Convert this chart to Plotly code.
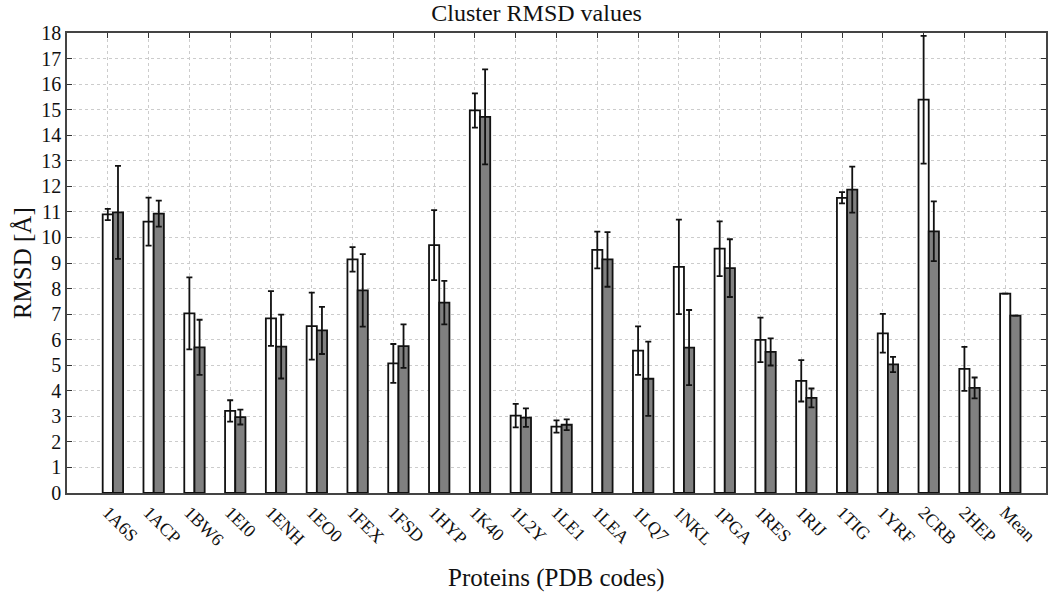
import plotly.graph_objects as go

proteins = ["1A6S", "1ACP", "1BW6", "1EI0", "1ENH", "1EO0", "1FEX", "1FSD", "1HYP", "1K40",
            "1L2Y", "1LE1", "1LEA", "1LQ7", "1NKL", "1PGA", "1RES", "1RIJ", "1TIG", "1YRF",
            "2CRB", "2HEP", "Mean"]

rmsd_a = [10.90, 10.62, 7.03, 3.21, 6.83, 6.53, 9.14, 5.07, 9.70, 14.97,
          3.03, 2.60, 9.51, 5.57, 8.85, 9.56, 5.99, 4.39, 11.55, 6.25,
          15.39, 4.86, 7.80]
err_a = [0.22, 0.94, 1.41, 0.42, 1.07, 1.31, 0.48, 0.76, 1.37, 0.67,
         0.46, 0.24, 0.72, 0.95, 1.85, 1.07, 0.87, 0.81, 0.22, 0.76,
         2.50, 0.86, None]

rmsd_b = [10.98, 10.93, 5.70, 2.97, 5.73, 6.36, 7.93, 5.75, 7.45, 14.72,
          2.95, 2.67, 9.14, 4.47, 5.69, 8.80, 5.52, 3.72, 11.87, 5.03,
          10.24, 4.11, 6.94]
err_b = [1.82, 0.51, 1.08, 0.29, 1.25, 0.92, 1.42, 0.85, 0.85, 1.86,
         0.36, 0.21, 1.07, 1.45, 1.47, 1.13, 0.53, 0.37, 0.90, 0.30,
         1.17, 0.41, None]

y_ticks = list(range(0, 19))

idx = list(range(len(proteins)))
BAR_W = 0.25

fig = go.Figure()
fig.add_trace(go.Bar(
    x=idx, y=rmsd_a, width=BAR_W, name="A",
    marker=dict(color="white", line=dict(color="#111111", width=1.8)),
    error_y=dict(type="data", array=err_a, visible=True, color="#111111", thickness=1.8, width=3),
))
fig.add_trace(go.Bar(
    x=[i + BAR_W for i in idx], y=rmsd_b, width=BAR_W, name="B",
    marker=dict(color="#808080", line=dict(color="#111111", width=1.8)),
    error_y=dict(type="data", array=err_b, visible=True, color="#111111", thickness=1.8, width=3),
))

serif = "Liberation Serif, Times New Roman, serif"

fig.update_layout(
    width=1050, height=600,
    barmode="overlay",
    showlegend=False,
    plot_bgcolor="white", paper_bgcolor="white",
    margin=dict(l=67, r=2, t=33, b=107),
    font=dict(family=serif, color="#111111"),
    title=dict(text="Cluster RMSD values", x=0.511, xref="container", xanchor="center",
               y=1 - 13 / 600, yref="container", yanchor="middle",
               font=dict(family=serif, size=24, color="#111111")),
)

fig.update_xaxes(
    range=[-1, len(proteins)],
    tickmode="array", tickvals=idx, ticktext=proteins,
    tickangle=45, tickfont=dict(family=serif, size=18, color="#111111"),
    ticks="inside", ticklen=5, tickcolor="#333333",
    showline=True, linecolor="#444444", linewidth=1.5, mirror="ticks",
    showgrid=True, gridcolor="#cccccc", griddash="dot", gridwidth=1,
    zeroline=False, layer="below traces",
)
fig.update_yaxes(
    range=[0, 18],
    tickmode="array", tickvals=y_ticks,
    tickfont=dict(family=serif, size=20, color="#111111"),
    ticks="inside", ticklen=5, tickcolor="#333333",
    showline=True, linecolor="#444444", linewidth=1.5, mirror="ticks",
    showgrid=True, gridcolor="#cccccc", griddash="dot", gridwidth=1,
    zeroline=False, layer="below traces",
)

fig.add_annotation(text="Proteins (PDB codes)", xref="paper", x=0.5, xanchor="center",
                   yref="paper", y=(493 - 578) / 460, yanchor="middle", showarrow=False,
                   font=dict(family=serif, size=25, color="#111111"))
fig.add_annotation(text="RMSD [Å]", xref="paper", x=(22 - 67) / 981, xanchor="center",
                   yref="paper", y=0.5, yanchor="middle", textangle=-90, showarrow=False,
                   font=dict(family=serif, size=25, color="#111111"))

fig.write_html("out.html", config={"displayModeBar": False},
               post_script="document.body.style.margin='0';")
